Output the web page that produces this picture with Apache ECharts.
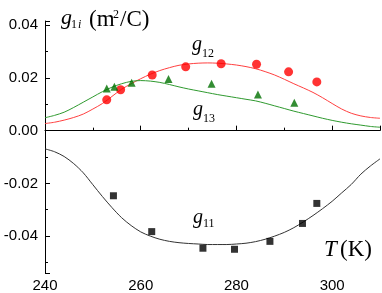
<!DOCTYPE html>
<html><head><meta charset="utf-8">
<script src="https://cdn.jsdelivr.net/npm/echarts@6/dist/echarts.min.js"></script>
<style>html,body{margin:0;padding:0;background:#fff}#c{width:382px;height:293px}</style>
</head><body><div id="c"></div>
<script>
// ---- data ----
const curveT = [240,242,244,246,248,250,252,254,256,258,260,262,264,266,268,270,272,274,276,278,280,282,284,286,288,290,292,294,296,298,300,302,304,306,308,310];
const g11Curve = [-0.0069,-0.0080,-0.0098,-0.0125,-0.0160,-0.0205,-0.0250,-0.0292,-0.0330,-0.0360,-0.0384,-0.0400,-0.0412,-0.0420,-0.0425,-0.0428,-0.0430,-0.0432,-0.0432,-0.0432,-0.0430,-0.0427,-0.0421,-0.0412,-0.0400,-0.0386,-0.0368,-0.0346,-0.0322,-0.0296,-0.0268,-0.0236,-0.0204,-0.0165,-0.0134,-0.0107];
const g12Curve = [0.0027,0.0032,0.0040,0.0050,0.0063,0.0082,0.0103,0.0130,0.0157,0.0178,0.0197,0.0214,0.0228,0.0239,0.0248,0.0253,0.0256,0.0257,0.0256,0.0253,0.0249,0.0243,0.0235,0.0224,0.0211,0.0195,0.0178,0.0162,0.0145,0.0125,0.0103,0.0082,0.0066,0.0056,0.0050,0.0047];
const g13Curve = [0.0049,0.0058,0.0070,0.0088,0.0108,0.0128,0.0148,0.0165,0.0178,0.0187,0.0190,0.0188,0.0183,0.0175,0.0166,0.0158,0.0151,0.0144,0.0137,0.0131,0.0125,0.0119,0.0113,0.0104,0.0094,0.0084,0.0074,0.0065,0.0056,0.0047,0.0039,0.0032,0.0026,0.0021,0.0016,0.0013];

const g11T = [254.3,262.3,273.0,279.6,287.0,293.8,296.8];
const g11V = [-0.0247,-0.0383,-0.0446,-0.0450,-0.0420,-0.0352,-0.0276];
const g12T = [252.9,255.8,262.4,269.4,276.8,284.2,290.9,296.8];
const g12V = [0.0117,0.0155,0.0211,0.0242,0.0254,0.0252,0.0223,0.0185];
const g13T = [252.9,254.5,258.1,265.8,274.8,284.5,292.1];
const g13V = [0.0160,0.0167,0.0182,0.0196,0.0178,0.0137,0.0106];

const xMin = 240, xMax = 310, xStep = 20;
const yMin = -0.054, yMax = 0.0416;

const pairs = (xs, ys) => xs.map((x, i) => [x, ys[i]]);

const chart = echarts.init(document.getElementById('c'), null, {renderer: 'canvas'});

const serif = "'Liberation Serif', 'DejaVu Serif', serif";
function txt(x, baseY, text, size, italic) {
  return {
    type: 'text', x: x, y: baseY - 0.32 * size, silent: true,
    style: {text: text, fill: '#000', font: (italic ? 'italic ' : '') + size + 'px ' + serif,
            verticalAlign: 'middle', align: 'left'}
  };
}

chart.setOption({
  animation: false,
  backgroundColor: '#fff',
  grid: {left: 45, right: 2, top: 21, bottom: 20, containLabel: false},
  xAxis: {
    type: 'value', min: xMin, max: xMax, interval: xStep,
    axisLine: {lineStyle: {color: '#000', width: 1}},
    axisTick: {inside: true, length: 5, lineStyle: {color: '#000'}},
    minorTick: {show: true, splitNumber: 2, length: 3, lineStyle: {color: '#000'}},
    splitLine: {show: false},
    axisLabel: {color: '#000', fontSize: 15, fontFamily: "'Liberation Sans', Arial, sans-serif", margin: 5, showMaxLabel: false}
  },
  yAxis: {
    type: 'value', min: yMin, max: yMax, splitNumber: 5,
    axisLine: {show: true, lineStyle: {color: '#000', width: 1}},
    axisTick: {show: true, inside: true, length: 5, lineStyle: {color: '#000'}},
    minorTick: {show: true, splitNumber: 2, length: 3, lineStyle: {color: '#000'}},
    splitLine: {show: false},
    axisLabel: {color: '#000', fontSize: 15, fontFamily: "'Liberation Sans', Arial, sans-serif", margin: 7,
      showMinLabel: false, showMaxLabel: false,
      formatter: v => v.toFixed(2)}
  },
  series: [
    {type: 'line', data: pairs(curveT, g12Curve), smooth: 0.3, showSymbol: false, lineStyle: {color: '#ff4040', width: 1}, z: 2},
    {type: 'line', data: pairs(curveT, g13Curve), smooth: 0.3, showSymbol: false, lineStyle: {color: '#2f9a2f', width: 1}, z: 2},
    {type: 'line', data: pairs(curveT, g11Curve), smooth: 0.3, showSymbol: false, lineStyle: {color: '#333', width: 1}, z: 2},
    {type: 'scatter', data: pairs(g12T, g12V), symbol: 'circle', symbolSize: 9, itemStyle: {color: '#ff0000'}, z: 3},
    {type: 'scatter', data: pairs(g13T, g13V), symbol: 'triangle', symbolSize: 8, itemStyle: {color: '#007000'}, z: 3},
    {type: 'scatter', data: pairs(g11T, g11V), symbol: 'rect', symbolSize: 7, itemStyle: {color: '#000'}, z: 3}
  ],
  graphic: [
    txt(61, 25, 'g', 22, true),
    txt(71, 29, '1', 12, false),
    txt(78, 29, 'i', 12, true),
    txt(89, 27, '(m', 23, false),
    txt(113, 19, '2', 12, false),
    txt(120, 27, '/C)', 23, false),
    txt(192, 51, 'g', 20, true),
    txt(202, 58, '12', 12, false),
    txt(193, 116, 'g', 20, true),
    txt(203, 123, '13', 12, false),
    txt(193, 224, 'g', 20, true),
    txt(203, 228, '11', 12, false),
    txt(324, 257, 'T', 23, true),
    txt(340, 257, '(K)', 23, false)
  ]
});
</script></body></html>
